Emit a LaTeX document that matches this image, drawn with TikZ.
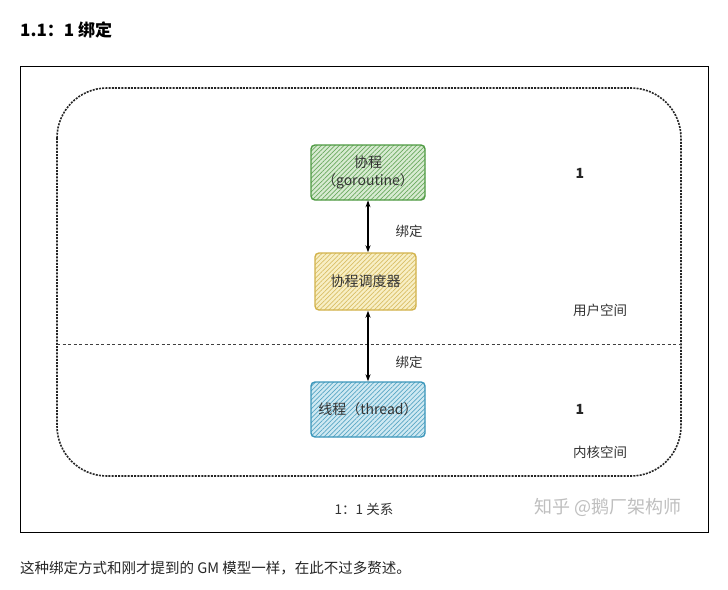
\documentclass[tikz,border=0pt]{standalone}
\usepackage{fontspec}
\setmainfont{Noto Sans CJK SC}
\usepackage{tikz}
\usetikzlibrary{arrows.meta,positioning,patterns.meta}

\definecolor{goline}{HTML}{4E9A42}
\definecolor{gofill}{HTML}{A9D29A}
\definecolor{schline}{HTML}{D2B24A}
\definecolor{schfill}{HTML}{F0E08A}
\definecolor{thline}{HTML}{3A96BA}
\definecolor{thfill}{HTML}{9FD3E6}

\begin{document}
\begin{tikzpicture}[x=1pt,y=-1pt,>={Stealth[length=7pt,width=5pt]},
    box/.style={draw,line width=1.4pt,rounded corners=4pt,align=center,
      font=\fontsize{14}{18}\selectfont,text=black!80},
    lbl/.style={font=\fontsize{13.5}{16}\selectfont,text=black!80},
    num/.style={font=\fontsize{14}{16}\selectfont\bfseries,text=black!85}]
    \useasboundingbox[fill=white] (0,0) rectangle (728,589);
    % heading and frame
    \node (title) at (20,30) [anchor=west,inner sep=0pt,font=\fontsize{17}{20}\selectfont\bfseries]{1.1：1 绑定};
    \draw[line width=0.8pt] (20,66) rectangle (708,532);
    % spaces
    \draw[line width=1.6pt,dash pattern=on 2pt off 1.2pt,rounded corners=50pt,black!85] (57,88) rectangle (681,476);
    \draw[line width=0.9pt,dash pattern=on 3pt off 2.5pt,black!75] (57,344) -- (681,344);
    % boxes
    \node (go) at (368,172.5) [box,draw=goline,minimum width=114pt,minimum height=55pt,
      preaction={fill=gofill!45},pattern={Lines[angle=45,distance=3.2pt,line width=0.7pt]},pattern color=goline!85]{协程\\（goroutine）};
    \node (sched) at (365.5,281.5) [box,draw=schline,minimum width=101pt,minimum height=57pt,
      preaction={fill=schfill!50},pattern={Lines[angle=45,distance=3.2pt,line width=0.7pt]},pattern color=schline!85]{协程调度器};
    \node (thread) at (368,409.5) [box,draw=thline,minimum width=114pt,minimum height=55pt,
      preaction={fill=thfill!50},pattern={Lines[angle=45,distance=3.2pt,line width=0.7pt]},pattern color=thline!85]{线程（thread）};
    % edges
    \draw[<->,line width=1.1pt] (go.south) -- (go.south |- sched.north);
    \draw[<->,line width=1.1pt] (thread.north |- sched.south) -- (thread.north);
    % labels
    \node (b1) at (409,231) [lbl]{绑定};
    \node (b2) at (409,362) [lbl]{绑定};
    \node (n1) at (580,173) [num]{1};
    \node (n2) at (580,409) [num]{1};
    \node (user) at (600,310) [lbl]{用户空间};
    \node (kernel) at (600,452) [lbl]{内核空间};
    \node (rel) at (364,509) [lbl]{1：1 关系};
    \node (mark) at (608,507) [font=\fontsize{18}{20}\selectfont,text=black!25]{知乎 @鹅厂架构师};
    \node (note) at (20,568) [anchor=west,inner sep=0pt,font=\fontsize{14.5}{17}\selectfont,text=black!85]{这种绑定方式和刚才提到的 GM 模型一样，在此不过多赘述。};
\end{tikzpicture}
\end{document}
